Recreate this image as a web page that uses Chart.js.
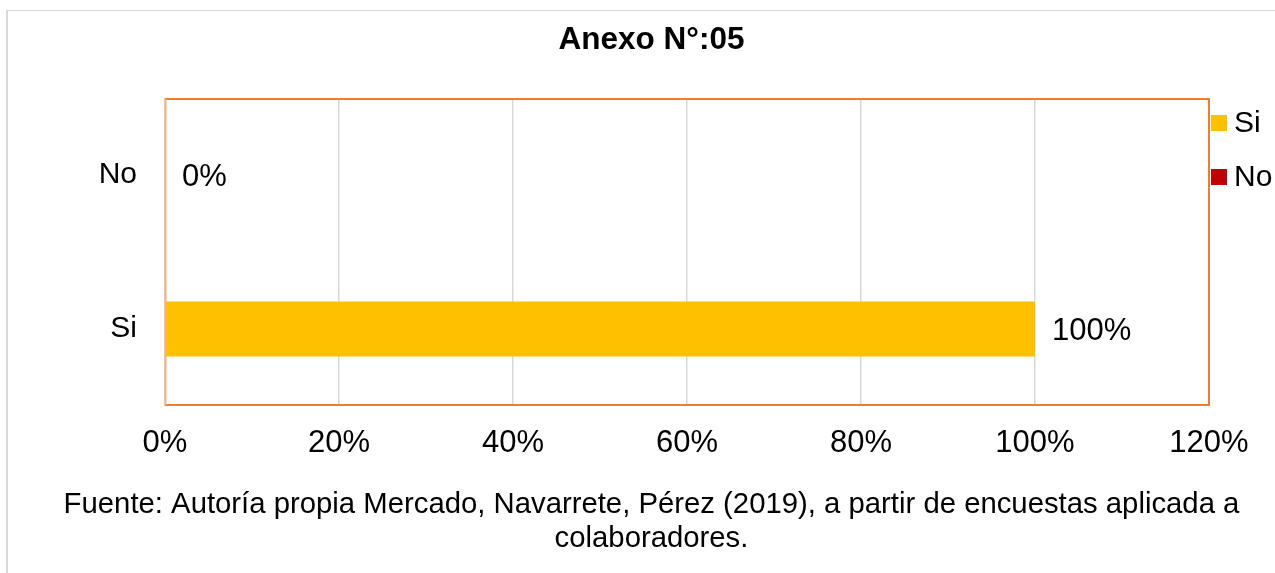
<!DOCTYPE html>
<html>
<head>
<meta charset="utf-8">
<script src="https://cdn.jsdelivr.net/npm/chart.js@4/dist/chart.umd.min.js"></script>
<style>
html, body { margin: 0; padding: 0; background: #ffffff; }
#wrap { width: 1275px; height: 573px; position: relative; }
</style>
</head>
<body>
<div id="wrap"><canvas id="c"></canvas></div>
<script>
const categories = ['No', 'Si'];
const seriesNames = ['Si', 'No'];
const siValues = [null, 100];
const noValues = [0, null];
const seriesColors = ['#FFC000', '#C00000'];
const xTickValues = [0, 20, 40, 60, 80, 100, 120];
const titleText = 'Anexo N°:05';
const footerLines = ['Fuente: Autoría propia Mercado, Navarrete, Pérez (2019), a partir de encuestas aplicada a', 'colaboradores.'];

const FONT = "'Liberation Sans', Arial, Helvetica, sans-serif";

const pagePlugin = {
  id: 'pageDeco',
  beforeDraw(chart) {
    const ctx = chart.ctx;
    ctx.save();
    ctx.fillStyle = '#ffffff';
    ctx.fillRect(0, 0, chart.width, chart.height);
    ctx.fillStyle = '#D9D9D9';
    ctx.fillRect(6, 10, 2, chart.height - 10);
    ctx.fillRect(6, 10, chart.width - 6, 1);
    ctx.restore();
  },
  afterDatasetsDraw(chart) {
    const ctx = chart.ctx;
    const a = chart.chartArea;
    ctx.save();
    // plot-area border
    ctx.lineWidth = 2;
    ctx.strokeStyle = '#ED7D31';
    ctx.beginPath();
    ctx.moveTo(a.left, a.top + 1);
    ctx.lineTo(a.right, a.top + 1);
    ctx.lineTo(a.right, a.bottom - 1);
    ctx.lineTo(a.left, a.bottom - 1);
    ctx.stroke();
    ctx.strokeStyle = '#F4B183';
    ctx.beginPath();
    ctx.moveTo(a.left + 0.5, a.top + 1);
    ctx.lineTo(a.left + 0.5, a.bottom - 1);
    ctx.stroke();

    // data labels
    ctx.fillStyle = '#000000';
    ctx.font = '31px ' + FONT;
    ctx.textAlign = 'left';
    ctx.textBaseline = 'middle';
    chart.data.datasets.forEach((ds, di) => {
      const meta = chart.getDatasetMeta(di);
      meta.data.forEach((el, i) => {
        const v = ds.data[i];
        if (v === null || v === undefined) return;
        ctx.fillText(v + '%', el.x + 17, el.y + 2);
      });
    });

    // legend (right side)
    ctx.font = '30px ' + FONT;
    const lx = a.right + 2;
    chart.data.datasets.forEach((ds, di) => {
      const cy = 123 + di * 54;
      ctx.fillStyle = ds.backgroundColor;
      ctx.fillRect(lx, cy - 8, 16, 16);
      ctx.fillStyle = '#000000';
      ctx.fillText(ds.label, lx + 23, cy + 1);
    });
    ctx.restore();
  }
};

new Chart(document.getElementById('c'), {
  type: 'bar',
  data: {
    labels: categories,
    datasets: [
      { label: seriesNames[0], data: siValues, backgroundColor: seriesColors[0], grouped: false, categoryPercentage: 1, barPercentage: 0.357 },
      { label: seriesNames[1], data: noValues, backgroundColor: seriesColors[1], grouped: false, categoryPercentage: 1, barPercentage: 0.357 }
    ]
  },
  options: {
    indexAxis: 'y',
    responsive: true,
    maintainAspectRatio: false,
    animation: false,
    layout: { padding: { left: 28, right: 0, top: 0, bottom: 0 } },
    scales: {
      x: {
        min: xTickValues[0],
        max: xTickValues[xTickValues.length - 1],
        afterBuildTicks(scale) { scale.ticks = xTickValues.map(v => ({ value: v })); },
        afterFit(scale) { scale.height = 70; },
        grid: { color: '#D9D9D9', lineWidth: 1.5, drawTicks: false },
        border: { display: false },
        ticks: { padding: 18.4, color: '#000000', font: { family: FONT, size: 31 }, callback: v => v + '%' }
      },
      y: {
        afterFit(scale) { scale.width = 137; },
        grid: { display: false, drawTicks: false },
        border: { display: false },
        ticks: { padding: 28, color: '#000000', font: { family: FONT, size: 30 } }
      },
      yRight: {
        type: 'category',
        labels: categories,
        position: 'right',
        display: true,
        afterFit(scale) { scale.width = 66; },
        grid: { display: false, drawTicks: false },
        border: { display: false },
        ticks: { display: false }
      }
    },
    plugins: {
      legend: { display: false },
      tooltip: { enabled: false },
      title: {
        display: true,
        text: titleText,
        color: '#000000',
        font: { family: FONT, size: 31.5, weight: 'bold', lineHeight: 1.2 },
        padding: { top: 21.1, bottom: 39.1 }
      },
      subtitle: {
        display: true,
        position: 'bottom',
        text: footerLines,
        color: '#000000',
        font: { family: FONT, size: 29.3, weight: 'normal', lineHeight: 1.16 },
        padding: { top: 12, bottom: 17 }
      }
    }
  },
  plugins: [pagePlugin]
});
</script>
</body>
</html>
